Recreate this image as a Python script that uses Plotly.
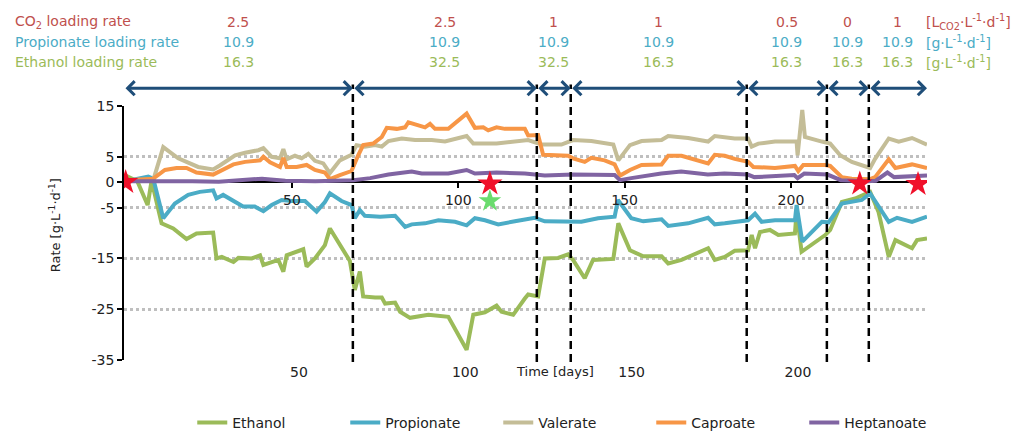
import plotly.graph_objects as go

# ---------------- data ----------------
ethanol_x = [0, 3.5, 6.6, 7.8, 10.8, 14.3, 18.3, 21.3, 26.3, 27.3, 28.9, 32.4, 33.9, 37.9, 40.4, 41.4, 45.9, 47.4, 48.4, 50.9, 53.4, 54.4, 56.9, 59.9, 61.4, 67.4, 68.9, 70.4, 71.4, 75.0, 77.0, 78.0, 81.0, 82.5, 85.5, 91.0, 97.0, 102.5, 104.5, 108.0, 111.5, 113.0, 116.5, 120.0, 121.0, 124.0, 126.0, 130.0, 133.0, 134.5, 138.0, 140.5, 146.6, 148.1, 151.6, 155.6, 161.1, 163.1, 167.1, 175.1, 177.1, 180.1, 183.1, 187.1, 188.2, 189.2, 190.7, 193.7, 196.2, 201.2, 201.7, 203.2, 210.3, 211.8, 215.3, 219.3, 223.8, 226.3, 229.4, 231.4, 236.4, 237.9, 240.9]
ethanol_y = [1.3, 0.2, -4.5, 0.3, -8.1, -9.1, -11.2, -10.1, -9.9, -15.0, -14.7, -15.7, -14.9, -15.0, -14.4, -16.3, -15.3, -17.6, -14.4, -13.7, -13.2, -16.6, -15.0, -12.4, -9.1, -15.5, -21.2, -17.6, -22.5, -22.7, -22.7, -23.9, -23.7, -25.5, -26.7, -26.1, -26.5, -33.0, -26.1, -25.6, -24.3, -25.5, -26.1, -22.9, -22.1, -22.5, -15.0, -14.9, -14.2, -15.3, -18.9, -15.3, -15.1, -8.1, -13.4, -14.6, -14.6, -16.0, -15.3, -13.0, -15.3, -14.7, -13.5, -13.4, -10.4, -13.0, -9.8, -9.4, -10.4, -10.1, -5.8, -13.7, -10.4, -9.4, -3.9, -3.2, -1.9, -5.8, -14.7, -11.4, -13.0, -11.4, -11.1]

propionate_x = [0, 6.8, 8.3, 11.3, 14.8, 18.8, 22.3, 26.3, 27.3, 29.3, 35.3, 38.8, 41.4, 43.9, 46.9, 49.9, 53.9, 57.4, 59.9, 61.4, 64.9, 67.9, 68.9, 70.4, 71.9, 76.5, 81.0, 84.0, 86.0, 90.0, 94.0, 99.0, 102.5, 105.0, 108.0, 112.0, 117.0, 120.0, 123.0, 126.0, 133.0, 137.0, 142.0, 147.0, 148.0, 152.0, 155.6, 161.1, 163.1, 169.1, 175.1, 177.1, 180.1, 187.1, 189.2, 191.2, 195.2, 201.2, 201.7, 203.4, 209.3, 211.3, 215.3, 218.3, 221.3, 223.8, 226.3, 229.4, 231.9, 236.4, 240.9]
propionate_y = [0.2, 1.1, 0.7, -7.1, -4.2, -2.5, -1.9, -1.6, -3.2, -2.5, -4.8, -4.8, -5.7, -4.5, -3.5, -3.7, -3.7, -5.8, -3.9, -2.2, -3.7, -4.5, -7.1, -5.5, -6.6, -6.8, -6.6, -8.8, -8.3, -8.1, -7.5, -7.8, -8.5, -7.1, -7.5, -8.3, -7.7, -7.3, -7.0, -7.7, -7.7, -7.8, -7.1, -6.8, -3.5, -7.1, -7.7, -7.3, -8.6, -8.1, -7.0, -8.3, -8.1, -7.5, -6.2, -7.8, -7.5, -7.5, -4.5, -11.7, -7.8, -7.9, -4.2, -3.9, -3.5, -2.2, -4.8, -7.8, -7.0, -7.8, -6.8]

valerate_x = [0, 8.3, 11.3, 15.8, 21.8, 26.3, 28.3, 32.9, 35.9, 39.9, 41.4, 43.9, 46.4, 47.4, 48.4, 50.9, 52.9, 54.9, 56.9, 59.4, 61.4, 64.4, 67.9, 69.4, 71.9, 75.0, 77.0, 79.0, 83.0, 87.0, 92.0, 96.0, 102.5, 104.5, 111.5, 117.5, 121.0, 125.0, 131.0, 134.5, 140.0, 146.6, 148.1, 151.6, 155.1, 161.1, 163.1, 169.1, 175.1, 177.1, 180.1, 183.1, 187.1, 188.2, 190.2, 195.2, 201.7, 202.0, 203.4, 204.2, 209.3, 211.8, 214.8, 218.3, 223.8, 225.3, 229.4, 232.4, 236.4, 240.9]
valerate_y = [0.4, 0.4, 6.9, 4.7, 3.0, 2.5, 3.3, 5.3, 5.8, 6.3, 6.7, 5.0, 4.7, 6.5, 4.5, 5.2, 4.7, 5.6, 4.2, 3.7, 1.8, 4.3, 5.4, 7.3, 7.0, 7.3, 7.0, 8.1, 8.6, 8.3, 8.3, 8.0, 9.1, 7.6, 7.6, 8.0, 8.3, 7.4, 7.4, 8.3, 8.1, 7.4, 4.3, 7.3, 8.1, 8.3, 9.1, 8.7, 8.0, 9.1, 8.9, 8.6, 8.6, 7.0, 7.6, 8.0, 8.0, 5.3, 14.2, 8.9, 8.0, 7.6, 5.3, 4.0, 2.8, 4.6, 8.6, 8.0, 8.7, 7.4]

caproate_x = [0, 8.3, 11.8, 15.3, 18.3, 21.3, 26.3, 28.9, 32.4, 35.9, 40.4, 41.4, 43.4, 46.4, 47.4, 48.4, 51.4, 54.4, 56.9, 59.9, 61.4, 64.4, 67.9, 69.9, 71.4, 74.4, 77.0, 78.5, 81.5, 84.0, 85.0, 90.0, 91.5, 93.0, 97.0, 102.5, 105.0, 107.5, 109.0, 111.5, 114.0, 118.0, 120.0, 121.0, 124.0, 125.5, 133.0, 134.5, 138.0, 140.0, 144.0, 147.0, 148.6, 151.6, 155.1, 161.1, 163.1, 167.1, 175.1, 177.1, 180.1, 183.1, 187.1, 188.7, 195.2, 201.2, 202.2, 203.7, 210.3, 211.8, 215.3, 218.3, 223.8, 225.3, 229.4, 231.4, 236.4, 240.9]
caproate_y = [0.4, 0.7, 2.4, 2.8, 2.8, 1.9, 1.5, 2.4, 3.5, 4.0, 4.3, 5.0, 3.9, 3.0, 4.8, 3.0, 3.0, 3.4, 2.4, 1.9, 0.6, 1.4, 2.2, 5.3, 7.3, 7.6, 8.9, 10.7, 10.5, 10.8, 11.8, 10.8, 11.5, 10.5, 10.5, 13.5, 10.7, 10.8, 10.2, 10.8, 10.5, 10.5, 10.5, 9.2, 9.3, 5.4, 5.2, 4.7, 4.0, 4.8, 4.3, 3.5, 1.3, 2.4, 3.4, 3.5, 5.2, 5.2, 3.7, 5.4, 5.2, 4.6, 4.0, 3.0, 2.8, 3.2, 2.2, 3.4, 3.4, 3.2, 1.0, 0.7, 0.6, 1.0, 4.5, 2.8, 3.5, 2.8]

heptanoate_x = [0, 10, 20, 28, 35, 41, 48, 57, 68.4, 73.5, 79, 86, 89, 97, 102.5, 105, 111.5, 120, 126, 134.5, 147, 148.6, 152, 161, 167, 175, 180, 187, 189, 201, 202, 204, 211, 215, 223, 225.5, 229, 231, 240.9]
heptanoate_y = [0.2, 0.3, 0.2, 0.1, 0.4, 0.7, 0.3, 0.2, 0.4, 0.8, 1.5, 2.1, 1.7, 1.7, 2.4, 1.7, 1.9, 1.7, 1.3, 1.5, 1.4, 0.4, 0.8, 1.7, 2.1, 1.5, 1.7, 1.5, 1.0, 1.4, 0.8, 1.7, 1.5, 0.4, 0.2, 0.3, 1.9, 1.0, 1.3]

red_star_x = [0, 109.5, 220.7, 238.2]
red_star_y = [0, -0.3, -0.3, -0.4]
green_star_x = [109.5]
green_star_y = [-3.7]

phase_bounds = [-0.5, 68.3, 123.6, 133.8, 186.7, 210.8, 223.4, 240.9]
co2_rates = ["2.5", "2.5", "1", "1", "0.5", "0", "1"]
prop_rates = ["10.9", "10.9", "10.9", "10.9", "10.9", "10.9", "10.9"]
eth_rates = ["16.3", "32.5", "32.5", "16.3", "16.3", "16.3", "16.3"]

y_ticks = [15, 5, 0, -5, -15, -25, -35]
y_tick_labels = ["15", "5", "0", "-5", "-15", "-25", "-35"]
x_ticks = [50, 100, 150, 200]
x_tick_labels = ["50", "100", "150", "200"]

# ---------------- styling ----------------
FONT = "DejaVu Sans"
RED = "#C0504D"
BLUE = "#4BACC6"
GREEN = "#9BBB59"
TAN = "#C4BD97"
ORANGE = "#F79646"
PURPLE = "#8064A2"
NAVY = "#1F4E79"

fig = go.Figure()

series = [
    ("Ethanol", ethanol_x, ethanol_y, GREEN),
    ("Propionate", propionate_x, propionate_y, BLUE),
    ("Valerate", valerate_x, valerate_y, TAN),
    ("Caproate", caproate_x, caproate_y, ORANGE),
    ("Heptanoate", heptanoate_x, heptanoate_y, PURPLE),
]
for name, xs, ys, col in series:
    fig.add_trace(go.Scatter(x=xs, y=ys, mode="lines", name=name,
                             line=dict(color=col, width=4)))

fig.add_trace(go.Scatter(x=red_star_x, y=red_star_y, mode="markers", showlegend=False,
                         marker=dict(symbol="star", size=19, color="#F0102A")))
fig.add_trace(go.Scatter(x=green_star_x, y=green_star_y, mode="markers", showlegend=False,
                         marker=dict(symbol="star", size=17, color="#6ADC6E")))
# helper trace for the secondary axis drawn along y = 0
fig.add_trace(go.Scatter(x=[None], y=[None], xaxis="x2", showlegend=False, hoverinfo="skip"))

xr = [-0.5, 240.9]

# dashed phase boundaries
for b in phase_bounds[1:-1]:
    fig.add_shape(type="line", xref="x", yref="paper", x0=b, x1=b, y0=-0.008, y1=1.085,
                  line=dict(color="black", width=2.5, dash="8px,5px"))

annotations = []
# double-headed arrows
for i in range(len(phase_bounds) - 1):
    annotations.append(dict(x=phase_bounds[i + 1], y=1.07, xref="x", yref="paper",
                            ax=phase_bounds[i], ay=0, axref="x", ayref="pixel",
                            text="", showarrow=True, arrowhead=4, startarrowhead=4,
                            arrowside="end+start", arrowwidth=3, arrowsize=0.9,
                            startarrowsize=0.9, arrowcolor=NAVY, standoff=0, startstandoff=0))

rows = [
    ("CO<sub>2</sub> loading rate", co2_rates, RED, 1.329, "[L<sub>CO2</sub>·L<sup>-1</sup>·d<sup>-1</sup>]"),
    ("Propionate loading rate", prop_rates, BLUE, 1.2505, "[g·L<sup>-1</sup>·d<sup>-1</sup>]"),
    ("Ethanol loading rate", eth_rates, GREEN, 1.172, "[g·L<sup>-1</sup>·d<sup>-1</sup>]"),
]
for label, vals, col, yy, unit in rows:
    annotations.append(dict(x=-0.1385, y=yy, xref="paper", yref="paper", text=label,
                            showarrow=False, xanchor="left", yanchor="middle",
                            font=dict(family=FONT, size=14, color=col)))
    for i, v in enumerate(vals):
        mid = (phase_bounds[i] + phase_bounds[i + 1]) / 2
        annotations.append(dict(x=mid, y=yy, xref="x", yref="paper", text=v,
                                showarrow=False, xanchor="center", yanchor="middle",
                                font=dict(family=FONT, size=14, color=col)))
    annotations.append(dict(x=240.0, y=yy, xref="x", yref="paper", text=unit,
                            showarrow=False, xanchor="left", yanchor="middle",
                            font=dict(family=FONT, size=14, color=col)))

annotations.append(dict(x=-0.086, y=0.53, xref="paper", yref="paper",
                        text="Rate [g·L<sup>-1</sup>·d<sup>-1</sup>]", textangle=-90,
                        showarrow=False, xanchor="center", yanchor="middle",
                        font=dict(family=FONT, size=13, color="#222")))
annotations.append(dict(x=0.537, y=-0.047, xref="paper", yref="paper", text="Time [days]",
                        showarrow=False, xanchor="center", yanchor="middle",
                        font=dict(family=FONT, size=13, color="#222")))

# the page body adds an 8px offset; compensate so the plot lands where the reference has it
fig.update_layout(
    width=1017, height=423,
    margin=dict(l=116, r=98, t=98, b=71, autoexpand=False),
    paper_bgcolor="white", plot_bgcolor="white",
    font=dict(family=FONT, size=14, color="#222"),
    annotations=annotations,
    showlegend=True,
    legend=dict(orientation="h", x=0.085, xanchor="left", y=-0.248, yanchor="middle",
                font=dict(family=FONT, size=14, color="#222"), itemwidth=30,
                entrywidth=108, entrywidthmode="pixels",
                bgcolor="rgba(0,0,0,0)"),
    xaxis=dict(range=xr, showgrid=False, zeroline=False, showline=False,
               tickvals=x_ticks, ticktext=x_tick_labels, ticks="", ticklabelshift=7,
               ticklabelstandoff=2,
               tickfont=dict(family=FONT, size=14, color="#222")),
    xaxis2=dict(range=xr, overlaying="x", anchor="free", position=0.7, side="bottom",
                showgrid=False, zeroline=False, showline=False,
                tickvals=x_ticks, ticktext=x_tick_labels, ticks="outside", ticklen=5,
                tickwidth=1.5, tickcolor="black",
                tickfont=dict(family=FONT, size=14, color="#222")),
    yaxis=dict(range=[-35, 15], tickvals=y_ticks, ticktext=y_tick_labels, showgrid=True,
               gridcolor="#BFBFBF", griddash="dot", gridwidth=2.5, zeroline=True,
               zerolinecolor="black", zerolinewidth=1.5, showline=True, linecolor="black",
               linewidth=1.5, ticks="outside", ticklen=5, tickwidth=1.5, tickcolor="black",
               tickfont=dict(family=FONT, size=14, color="#222")),
)

fig.write_html("out.html")
